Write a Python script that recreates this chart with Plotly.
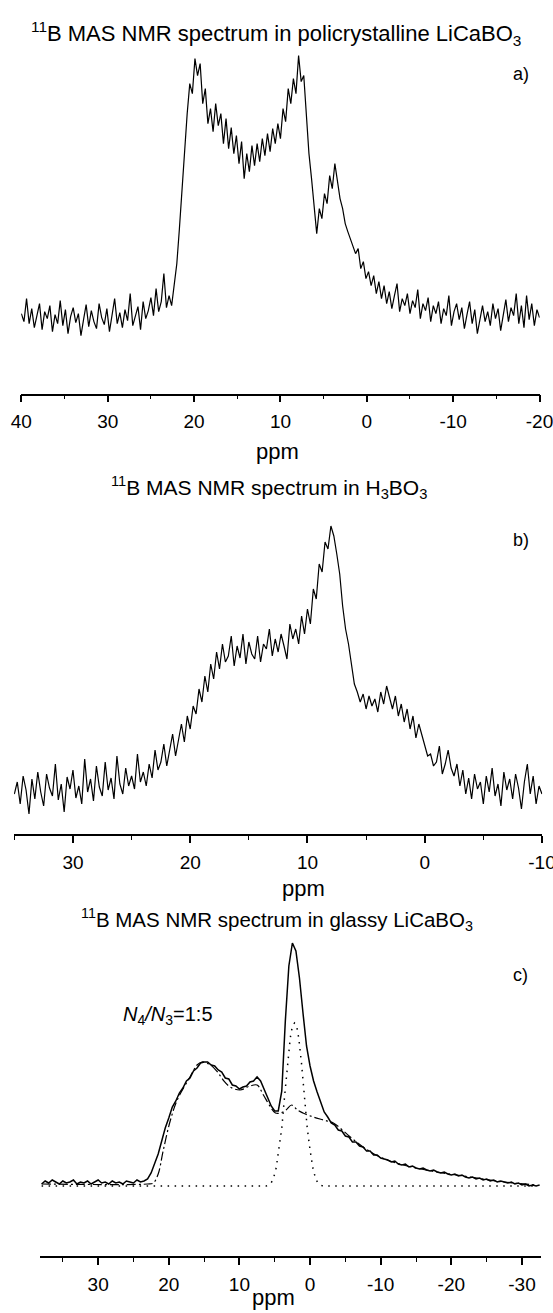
import plotly.graph_objects as go

# ---------------- Panel a: policrystalline LiCaBO3 ----------------
a_ppm_start = 40.0
a_ppm_step = 0.3
a_intensity = [
    80, 72, 95, 70, 85, 66, 78, 90, 64, 82,
    75, 88, 62, 79, 70, 93, 68, 84, 60, 77,
    86, 71, 80, 58, 74, 89, 67, 83, 72, 65,
    90, 76, 69, 85, 62, 78, 95, 70, 81, 66,
    84, 73, 100, 68, 79, 87, 64, 92, 75, 83,
    96, 78, 105, 82, 92, 120, 86, 98, 88, 110,
    130, 165, 205, 245, 280, 310, 300, 335, 318, 330,
    290, 305, 270, 285, 262, 290, 268, 280, 250, 275,
    245, 266, 240, 258, 230, 252, 215, 240, 222, 248,
    228, 250, 232, 255, 238, 260, 242, 265, 250, 270,
    255, 285, 272, 305, 290, 315, 300, 338, 312, 318,
    280, 240, 215, 190, 160, 185, 175, 200, 190, 218,
    205, 230, 212, 195, 185, 170, 162, 155, 148, 140,
    145, 125, 132, 115, 122, 108, 118, 100, 112, 95,
    108, 90, 102, 85, 98, 110, 82, 95, 88, 100,
    80, 93, 86, 104, 75, 90, 83, 96, 72, 88,
    80, 92, 70, 85, 78, 98, 68, 82, 90, 74,
    86, 65, 79, 92, 70, 84, 60, 76, 88, 72,
    82, 68, 90, 75, 85, 63, 80, 94, 72, 86,
    78, 100, 70, 88, 66, 98, 74, 90, 68, 84,
    76,
]
a_ppm = [round(a_ppm_start - i * a_ppm_step, 3) for i in range(len(a_intensity))]
a_tick_vals = [40, 30, 20, 10, 0, -10, -20]
a_tick_text = ["40", "30", "20", "10", "0", "-10", "-20"]
a_minor_vals = [35, 25, 15, 5, -5, -15]

# ---------------- Panel b: H3BO3 ----------------
b_ppm_start = 35.0
b_ppm_step = 0.25
b_intensity = [
    40, 52, 30, 58, 44, 20, 55, 35, 62, 42,
    28, 60, 46, 38, 70, 34, 50, 22, 57, 45,
    64, 36, 48, 30, 75, 42, 55, 33, 68, 47,
    38, 72, 44, 56, 35, 78, 50, 40, 66, 48,
    58, 45, 80, 52, 62, 48, 70, 56, 84, 64,
    72, 90, 68, 85, 100, 78, 95, 110, 92, 118,
    105, 128, 120, 145, 132, 158, 142, 170, 155, 182,
    165, 190, 172, 178, 198, 168, 188, 176, 200, 170,
    192, 180, 175, 198, 172, 190, 185, 205, 178, 195,
    182, 200, 188, 175, 210, 195, 205, 190, 218, 200,
    225, 210, 245, 235, 270, 262, 292, 285, 308, 298,
    280, 260, 228, 205, 190, 168, 150, 142, 132, 140,
    125, 138, 128, 135, 122, 142, 130, 148, 136, 125,
    138, 118, 130, 112, 125, 105, 118, 96, 110, 100,
    90, 78, 80, 68, 72, 88, 60, 70, 84, 66,
    58, 70, 48, 64, 40, 56, 35, 60, 45, 52,
    30, 58, 42, 66, 38, 50, 28, 62, 44, 55,
    35, 60, 46, 25, 52, 70, 40, 58, 30, 48,
    40,
]
b_ppm = [round(b_ppm_start - i * b_ppm_step, 3) for i in range(len(b_intensity))]
b_tick_vals = [30, 20, 10, 0, -10]
b_tick_text = ["30", "20", "10", "0", "-10"]
b_minor_vals = [35, 25, 15, 5, -5]

# ---------------- Panel c: glassy LiCaBO3 ----------------
c_ppm_start = 38.0
c_ppm_step = 0.5
c_measured = [
    72, 75, 73, 76, 74, 72, 75, 73, 74, 76,
    72, 74, 73, 75, 72, 74, 76, 73, 74, 72,
    75, 73, 74, 72, 75, 74, 73, 76, 74, 75,
    77, 83, 92, 102, 115, 128, 138, 149, 155, 163,
    168, 175, 178, 185, 188, 193, 194, 194, 191, 190,
    186, 184, 178, 177, 171, 170, 167, 169, 170, 174,
    175, 179, 175, 167, 158, 150, 145, 145, 165, 235,
    290, 313, 305, 278, 243, 210, 190, 175, 164, 154,
    144, 139, 133, 131, 126, 125, 120, 119, 114, 114,
    110, 109, 105, 105, 101, 101, 98,
    97, 96, 94, 95, 92, 91, 92, 89, 90, 88,
    87, 88, 86, 85, 86, 84, 83, 84, 82, 81,
    82, 80, 81, 79, 78, 79, 77, 78, 76, 77,
    75, 76, 74, 75, 74, 73, 74, 72, 73, 71,
    72, 70, 71, 70, 71,
]
c_ppm = [round(c_ppm_start - i * c_ppm_step, 3) for i in range(len(c_measured))]
c_tick_vals = [30, 20, 10, 0, -10, -20, -30]
c_tick_text = ["30", "20", "10", "0", "-10", "-20", "-30"]
c_minor_vals = [35, 25, 15, 5, -5, -15, -25]

# trigonal (N3) fit component, dash-dot
c_fit3_ppm = [38.0, 23.0, 22.2, 21.5, 20.8, 19.8, 18.8, 17.0, 16.0, 15.3, 14.1, 13.1,
              12.3, 11.3, 9.9, 8.5, 7.5, 6.6, 5.6, 4.9, 4.2, 3.4, 2.6, 1.8, 1.0,
              -0.45, -1.87, -3.3, -5.7, -7.5, -9.9, -13.2, -18.0, -22.7, -27.4, -32.0]
c_fit3_int = [72, 72, 73, 82, 105, 135, 156, 179, 191, 194, 191, 184,
              176, 169, 166, 170, 171, 161, 149, 143, 143, 146, 151, 146, 143,
              139, 136, 133, 119, 109, 99, 91, 84, 79, 74, 71]

# tetrahedral (N4) fit component, dotted
c_fit4_ppm = [38.0, 6.2, 5.6, 5.2, 4.8, 4.4, 4.0, 3.6, 3.2, 2.8, 2.5, 2.2, 1.9, 1.6,
              1.2, 0.8, 0.4, 0.0, -0.4, -0.8, -1.2, -1.8, -32.0]
c_fit4_int = [70, 70, 72, 77, 88, 106, 128, 160, 192, 218, 230, 233, 230, 218,
              192, 160, 128, 106, 88, 77, 72, 70, 70]

W, H = 553, 1313


def px(x):
    return x / W


def py(y):
    return 1 - y / H


fig = go.Figure()
fig.add_trace(go.Scatter(x=a_ppm, y=a_intensity, mode="lines",
                         line=dict(color="black", width=1.2), xaxis="x", yaxis="y"))
fig.add_trace(go.Scatter(x=b_ppm, y=b_intensity, mode="lines",
                         line=dict(color="black", width=1.2), xaxis="x2", yaxis="y2"))
fig.add_trace(go.Scatter(x=c_fit4_ppm, y=c_fit4_int, mode="lines",
                         line=dict(color="black", width=1.5, dash="1.5px,5.5px"),
                         xaxis="x3", yaxis="y3"))
fig.add_trace(go.Scatter(x=c_fit3_ppm, y=c_fit3_int, mode="lines", line_shape="spline",
                         line=dict(color="black", width=1.2, dash="9px,3px,2px,3px"),
                         xaxis="x3", yaxis="y3"))
fig.add_trace(go.Scatter(x=c_ppm, y=c_measured, mode="lines",
                         line=dict(color="black", width=1.5), xaxis="x3", yaxis="y3"))


def xaxis_style(tick_vals, tick_text, minor_vals):
    return dict(
        showline=True, linecolor="black", linewidth=1.6,
        ticks="outside", ticklen=7, tickwidth=1.5, tickcolor="black",
        tickmode="array", tickvals=tick_vals, ticktext=tick_text,
        showgrid=False, zeroline=False,
        tickfont=dict(family="Arial", size=19, color="black"),
        ticklabeloverflow="allow",
        minor=dict(ticks="outside", ticklen=4, tickwidth=1.3, tickcolor="black",
                   tickmode="array", tickvals=minor_vals, showgrid=False),
        ticklabelstandoff=3, fixedrange=True, automargin=False,
    )


yaxis_common = dict(visible=False, fixedrange=True, showgrid=False, zeroline=False)

fig.update_layout(
    width=W, height=H, margin=dict(l=0, r=0, t=0, b=0),
    paper_bgcolor="white", plot_bgcolor="white", showlegend=False,
    xaxis=dict(domain=[px(21.2), px(539.7)], range=[40.02, -20.02], anchor="y",
               **xaxis_style(a_tick_vals, a_tick_text, a_minor_vals)),
    yaxis=dict(domain=[py(393.6), py(40)], range=[0, 353.6], anchor="x", **yaxis_common),
    xaxis2=dict(domain=[px(14.1), px(542.2)], range=[35.02, -10.02], anchor="y2",
                **xaxis_style(b_tick_vals, b_tick_text, b_minor_vals)),
    yaxis2=dict(domain=[py(834), py(500)], range=[0, 334], anchor="x2", **yaxis_common),
    xaxis3=dict(domain=[px(39.5), px(541.4)], range=[38.3, -32.75], anchor="y3",
                **xaxis_style(c_tick_vals, c_tick_text, c_minor_vals)),
    yaxis3=dict(domain=[py(1256), py(930)], range=[0, 326], anchor="x3", **yaxis_common),
)

font_main = dict(family="Arial", color="black")
annotations = [
    ("<sup>11</sup>B MAS NMR spectrum in policrystalline LiCaBO<sub>3</sub>", 276, 34, 22),
    ("<sup>11</sup>B MAS NMR spectrum in H<sub>3</sub>BO<sub>3</sub>", 269, 487, 21),
    ("<sup>11</sup>B MAS NMR spectrum in glassy LiCaBO<sub>3</sub>", 277, 920, 20.5),
    ("ppm", 277, 452, 22),
    ("ppm", 303, 888, 22),
    ("ppm", 273, 1297, 22),
    ("a)", 520.5, 74, 18),
    ("b)", 520.5, 540, 18),
    ("c)", 520.5, 975, 18),
    ("<i>N</i><sub>4</sub><i>/N</i><sub>3</sub>=1:5", 167.5, 1015, 20),
]
for text, x, y, size in annotations:
    fig.add_annotation(text=text, x=px(x), y=py(y), xref="paper", yref="paper",
                       xanchor="center", yanchor="middle", showarrow=False,
                       font=dict(size=size, **font_main))

# remove the browser's default page margin so the figure sits at the window origin
fig.write_html("out.html", config={"displayModeBar": False},
               post_script="document.body.style.margin='0';")
